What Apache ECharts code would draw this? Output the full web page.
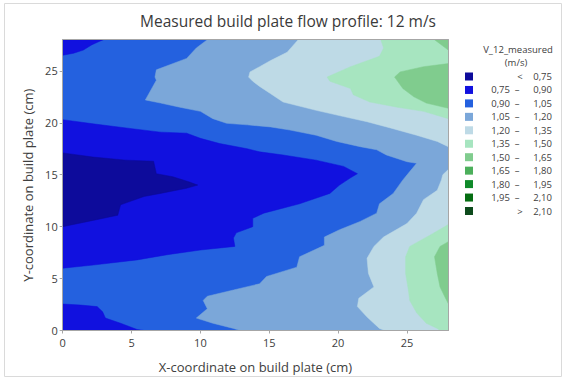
<!DOCTYPE html>
<html>
<head>
<meta charset="utf-8">
<script src="https://cdn.jsdelivr.net/npm/echarts@6/dist/echarts.min.js"></script>
<style>
html,body{margin:0;padding:0;background:#fff;}
#chart{width:566px;height:380px;}
</style>
</head>
<body>
<div id="chart"></div>
<script>
// ---- data ----
const chartTitle = 'Measured build plate flow profile: 12 m/s';
const xName = 'X-coordinate on build plate (cm)';
const yName = 'Y-coordinate on build plate (cm)';
const legendTitle = ['V_12_measured', '(m/s)'];
const xTicks = [0, 5, 10, 15, 20, 25];
const yTicks = [0, 5, 10, 15, 20, 25];
const xRange = [0, 28];
const yRange = [0, 28];
const levels = [0.75, 0.90, 1.05, 1.20, 1.35, 1.50, 1.65, 1.80, 1.95, 2.10];
const bandColors = ['#0d0b9b', '#1111df', '#2461df', '#7ba7d9', '#bedae6', '#a7e5c0',
                    '#80cc8e', '#4caf5b', '#0f8a2a', '#056d12', '#0d4a1c'];

// contour region outlines [x, y] in cm (band index = colour index)
const plateArea = [[0,0],[28,0],[28,28],[0,28]];
const band1Centre = [[0,20.3],[2.2,19.9],[4.6,19.5],[7.1,19.1],[9.0,19.0],[10.0,18.5],[11.4,18.0],[13.4,17.5],[14.3,17.2],[16.0,16.9],[18.4,16.4],[20.4,15.8],[21.4,15.1],[20.9,14.7],[20.1,14.0],[19.4,13.2],[17.2,12.2],[14.6,11.3],[13.8,10.8],[13.8,10.0],[12.6,9.4],[12.4,8.9],[12.5,8.1],[10.0,7.75],[7.6,7.3],[5.4,6.8],[2.2,6.3],[0,6.0]];
const band0Core = [[0,17.1],[2.2,16.7],[4.6,16.4],[6.6,16.3],[6.8,15.1],[8.0,14.8],[9.2,14.3],[9.8,14.0],[9.0,13.7],[7.1,13.2],[5.9,12.9],[4.2,12.1],[4.0,11.1],[2.2,10.6],[0,10.0]];
const band1TopLeft = [[0,28],[0,26.5],[0.8,26.7],[1.5,27.0],[2.1,27.5],[2.6,27.8],[2.95,28]];
const band1BottomLeft = [[0,0],[0,2.55],[1.3,2.45],[2.5,2.3],[2.9,1.8],[3.1,1.2],[4.2,0.7],[5.4,0.1],[5.9,0]];
const band3Region = [[12.9,0],[12.4,0.2],[10.9,0.7],[9.7,1.2],[10.5,2.1],[10.2,2.9],[10.5,3.3],[12.4,3.9],[14.3,4.5],[14.8,5.2],[17.0,6.1],[17.2,7.1],[19.0,8.2],[19.0,9.0],[20.1,9.7],[21.6,10.5],[22.8,11.3],[23.0,12.2],[24.0,13.2],[24.7,14.5],[25.2,15.3],[25.7,16.1],[25.0,16.25],[23.5,16.9],[22.8,17.4],[21.6,17.7],[19.9,18.2],[18.4,18.8],[16.5,19.3],[15.1,19.6],[13.4,19.8],[11.9,19.95],[10.9,20.4],[10.0,21.1],[8.5,21.5],[7.1,21.9],[6.0,22.2],[6.8,24.1],[6.7,24.4],[6.8,25.1],[9.0,26.2],[9.7,27.2],[10.5,28],[28,28],[28,0]];
const band4Top = [[17.1,28],[16.3,26.8],[15.1,26.0],[14.3,25.4],[13.6,24.9],[13.5,24.4],[13.8,24.0],[14.3,23.5],[15.1,22.8],[16.0,22.0],[18.4,21.2],[20.4,20.6],[22.1,20.1],[23.8,19.5],[25.7,18.8],[27.2,18.2],[28,17.7],[28,28]];
const band4Bottom = [[28,15.5],[27.6,15.0],[27.5,14.5],[27.2,13.5],[26.2,12.6],[25.7,11.3],[25.0,10.3],[23.3,9.0],[22.6,8.1],[22.1,6.95],[22.2,5.5],[22.6,4.2],[21.5,3.1],[21.4,2.3],[22.1,1.3],[23.0,0.2],[23.4,0],[28,0]];
const band5Top = [[23.1,28],[23.3,27.2],[23.0,26.4],[20.9,25.4],[19.2,24.4],[19.4,24.0],[20.9,23.3],[21.1,22.7],[22.3,22.0],[24.3,21.5],[26.2,21.1],[28,20.4],[28,28]];
const band5Bottom = [[28,10.2],[26.7,9.2],[25.2,8.1],[24.9,7.1],[24.9,5.5],[25.1,3.9],[25.2,2.9],[25.7,1.7],[26.4,0.7],[27.2,0.2],[27.4,0],[28,0]];
const band6Top = [[28,25.7],[26.2,25.4],[24.5,24.9],[24.1,24.4],[24.7,23.3],[25.5,22.5],[26.4,21.9],[28,21.4]];
const band6Corner = [[27.0,28],[28,27.0],[28,28]];
const band6Bottom = [[28,8.55],[27.4,8.1],[27.0,7.1],[27.2,5.5],[27.4,4.2],[27.8,3.1],[28,2.6]];

// draw order (painter's), each with its band index
const layers = [
  {pts: plateArea, band: 2},
  {pts: band1Centre, band: 1},
  {pts: band0Core, band: 0},
  {pts: band1TopLeft, band: 1},
  {pts: band1BottomLeft, band: 1},
  {pts: band3Region, band: 3},
  {pts: band4Top, band: 4},
  {pts: band4Bottom, band: 4},
  {pts: band5Top, band: 5},
  {pts: band5Bottom, band: 5},
  {pts: band6Top, band: 6},
  {pts: band6Corner, band: 6},
  {pts: band6Bottom, band: 6}
];

// ---- chart ----
const FONT = '"Open Sans", "Noto Sans", sans-serif';
const TXT = '#404040';
const AX = '#a6a6a6';
const fmt = v => v.toFixed(2).replace('.', ',');

const legendEls = [];
legendEls.push({type:'text', x:518, y:49, style:{text:legendTitle[0], fontFamily:FONT, fontSize:9.5, fill:TXT, textAlign:'center', textVerticalAlign:'middle'}});
legendEls.push({type:'text', x:516, y:62, style:{text:legendTitle[1], fontFamily:FONT, fontSize:9.5, fill:TXT, textAlign:'center', textVerticalAlign:'middle'}});
for (let i = 0; i < bandColors.length; i++) {
  const cy = 76.5 + i * 13.45;
  legendEls.push({type:'rect', shape:{x:465, y:cy-4, width:8, height:8}, style:{fill:bandColors[i]}});
  const ts = {fontFamily:FONT, fontSize:9.5, fill:TXT, textVerticalAlign:'middle'};
  if (i === 0 || i === bandColors.length - 1) {
    legendEls.push({type:'text', x:520, y:cy, style:Object.assign({}, ts, {text: i === 0 ? '<' : '>', textAlign:'center'})});
    legendEls.push({type:'text', x:552, y:cy, style:Object.assign({}, ts, {text: fmt(i === 0 ? levels[0] : levels[levels.length-1]), textAlign:'right'})});
  } else {
    legendEls.push({type:'text', x:510, y:cy, style:Object.assign({}, ts, {text: fmt(levels[i-1]), textAlign:'right'})});
    legendEls.push({type:'text', x:517, y:cy, style:Object.assign({}, ts, {text: '\u2013', textAlign:'center'})});
    legendEls.push({type:'text', x:552, y:cy, style:Object.assign({}, ts, {text: fmt(levels[i]), textAlign:'right'})});
  }
}

const chart = echarts.init(document.getElementById('chart'), null, {renderer:'svg', width:566, height:380});
const baseAxis = {
  type:'value', z:10,
  axisLine:{show:true, onZero:false, lineStyle:{color:AX, width:1}},
  splitLine:{show:false}
};
chart.setOption({
  animation:false,
  backgroundColor:'#ffffff',
  grid:{left:62.7, top:39.7, right:117.7, bottom:49.5, containLabel:false},
  graphic:[
    {type:'rect', shape:{x:4.5, y:3.5, width:557, height:373}, style:{fill:'none', stroke:'#dadada', lineWidth:1}, z:-1},
    {type:'text', x:288, y:21, style:{text:chartTitle, fontFamily:FONT, fontSize:15.5, fill:'#3a3a3a', textAlign:'center', textVerticalAlign:'middle'}},
    {type:'group', children:legendEls}
  ],
  xAxis:[
    Object.assign({}, baseAxis, {
      position:'bottom', min:xRange[0], max:xRange[1],
      axisTick:{show:true, length:3, customValues:xTicks, lineStyle:{color:AX}},
      axisLabel:{customValues:xTicks, color:TXT, fontSize:11, fontFamily:FONT, margin:6},
      name:xName, nameLocation:'middle', nameGap:30,
      nameTextStyle:{color:TXT, fontSize:13, fontFamily:FONT}
    }),
    Object.assign({}, baseAxis, {
      position:'top', min:xRange[0], max:xRange[1],
      axisTick:{show:false}, axisLabel:{show:false}
    })
  ],
  yAxis:[
    Object.assign({}, baseAxis, {
      position:'left', min:yRange[0], max:yRange[1],
      axisTick:{show:true, length:3, customValues:yTicks, lineStyle:{color:AX}},
      axisLabel:{customValues:yTicks, color:TXT, fontSize:11, fontFamily:FONT, margin:5},
      name:yName, nameLocation:'middle', nameGap:28,
      nameTextStyle:{color:TXT, fontSize:13, fontFamily:FONT}
    }),
    Object.assign({}, baseAxis, {
      position:'right', min:yRange[0], max:yRange[1],
      axisTick:{show:false}, axisLabel:{show:false}
    })
  ],
  series:[{
    type:'custom',
    xAxisIndex:0, yAxisIndex:0,
    clip:true, z:1, silent:true,
    data: layers.map((l, i) => [i, 0]),
    encode:{x:-1, y:-1},
    renderItem:function(params, api){
      const layer = layers[params.dataIndex];
      const points = layer.pts.map(p => api.coord(p));
      return {type:'polygon', shape:{points:points}, style:{fill:bandColors[layer.band], stroke:bandColors[layer.band], lineWidth:0.5}};
    }
  }]
});
</script>
</body>
</html>
